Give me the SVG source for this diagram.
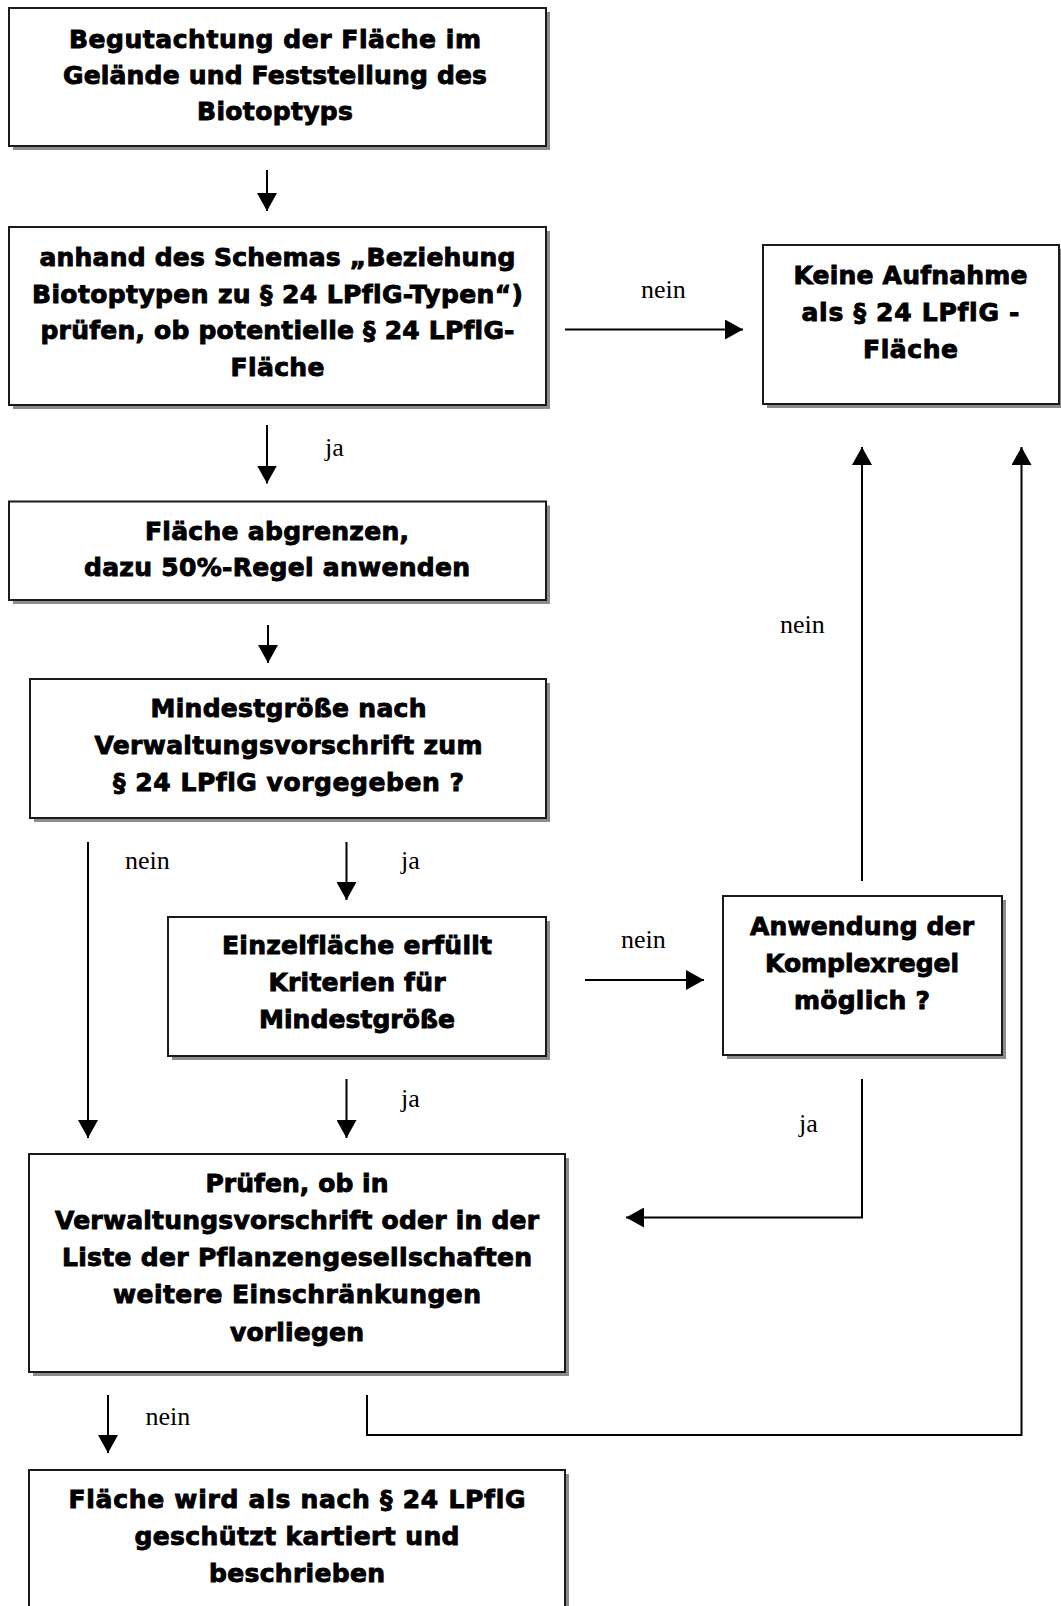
<svg xmlns="http://www.w3.org/2000/svg" width="1061" height="1606" viewBox="0 0 1061 1606">
<style>
  .box { fill: #ffffff; stroke: #1a1a1a; stroke-width: 2; }
  .shadow { fill: #8c8c8c; }
  .t { font-family: "DejaVu Sans", "Liberation Sans", sans-serif; font-weight: bold; font-size: 25px; fill: #000; stroke: #000; stroke-width: 0.9; text-anchor: middle; font-variant-ligatures: none; }
  .lbl { font-family: "Liberation Serif", "Times New Roman", serif; font-size: 26px; fill: #000; }
  .conn { fill: none; stroke: #000; stroke-width: 2; }
</style>
<defs>
  <marker id="ah" viewBox="0 0 18 20" refX="18" refY="10" markerWidth="18" markerHeight="20" markerUnits="userSpaceOnUse" orient="auto">
    <path d="M0,0 L18,10 L0,20 z" fill="#000"/>
  </marker>
</defs>
<rect width="1061" height="1606" fill="#ffffff"/>

<g id="connectors">
  <line class="conn" x1="267" y1="170" x2="267" y2="211" marker-end="url(#ah)"/>
  <line class="conn" x1="565" y1="329.5" x2="743" y2="329.5" marker-end="url(#ah)"/>
  <line class="conn" x1="267" y1="425" x2="267" y2="483.5" marker-end="url(#ah)"/>
  <line class="conn" x1="268" y1="625" x2="268" y2="663" marker-end="url(#ah)"/>
  <line class="conn" x1="88" y1="842" x2="88" y2="1138" marker-end="url(#ah)"/>
  <line class="conn" x1="346.5" y1="842" x2="346.5" y2="900" marker-end="url(#ah)"/>
  <line class="conn" x1="585" y1="980" x2="704" y2="980" marker-end="url(#ah)"/>
  <line class="conn" x1="862" y1="881" x2="862" y2="447" marker-end="url(#ah)"/>
  <line class="conn" x1="346.5" y1="1079" x2="346.5" y2="1138" marker-end="url(#ah)"/>
  <path class="conn" d="M862,1079 V1217.5 H626" marker-end="url(#ah)"/>
  <line class="conn" x1="108" y1="1395" x2="108" y2="1453" marker-end="url(#ah)"/>
  <path class="conn" d="M367,1395 V1435 H1021.5 V447" marker-end="url(#ah)"/>
  <text class="lbl" x="641" y="298">nein</text>
  <text class="lbl" x="325" y="455.5">ja</text>
  <text class="lbl" x="125" y="869">nein</text>
  <text class="lbl" x="401" y="869">ja</text>
  <text class="lbl" x="621" y="948">nein</text>
  <text class="lbl" x="780" y="632.5">nein</text>
  <text class="lbl" x="401" y="1107">ja</text>
  <text class="lbl" x="799" y="1131.5">ja</text>
  <text class="lbl" x="145.5" y="1425">nein</text>
</g>

<g id="node-begutachtung">
  <rect class="shadow" x="13" y="12" width="537" height="138"/>
  <rect class="box" x="9" y="8" width="537" height="138"/>
  <text class="t" x="275" y="47.5" textLength="412">Begutachtung der Fläche im</text>
  <text class="t" x="275" y="83.8" textLength="424">Gelände und Feststellung des</text>
  <text class="t" x="275" y="120" textLength="156">Biotoptyps</text>
</g>

<g id="node-schema">
  <rect class="shadow" x="13" y="231" width="537" height="178"/>
  <rect class="box" x="9" y="227" width="537" height="178"/>
  <text class="t" x="277.5" y="266.2" textLength="476">anhand des Schemas „Beziehung</text>
  <text class="t" x="277.5" y="302.8" textLength="491">Biotoptypen zu § 24 LPflG-Typen“)</text>
  <text class="t" x="277.5" y="339.3" textLength="474">prüfen, ob potentielle § 24 LPflG-</text>
  <text class="t" x="277.5" y="376" textLength="94">Fläche</text>
</g>

<g id="node-keine">
  <rect class="shadow" x="767" y="249" width="296" height="159"/>
  <rect class="box" x="763" y="245" width="296" height="159"/>
  <text class="t" x="910.5" y="283.5" textLength="234">Keine Aufnahme</text>
  <text class="t" x="910.5" y="320.5" textLength="218">als § 24 LPflG -</text>
  <text class="t" x="910.5" y="357.5" textLength="95">Fläche</text>
</g>

<g id="node-abgrenzen">
  <rect class="shadow" x="13" y="505.5" width="537" height="98.5"/>
  <rect class="box" x="9" y="501.5" width="537" height="98.5"/>
  <text class="t" x="277" y="539.5" textLength="264">Fläche abgrenzen,</text>
  <text class="t" x="277" y="576.2" textLength="386">dazu 50%-Regel anwenden</text>
</g>

<g id="node-mindestgroesse">
  <rect class="shadow" x="34" y="683" width="516" height="139"/>
  <rect class="box" x="30" y="679" width="516" height="139"/>
  <text class="t" x="288.5" y="716.8" textLength="276">Mindestgröße nach</text>
  <text class="t" x="288.5" y="753.5" textLength="388">Verwaltungsvorschrift zum</text>
  <text class="t" x="288.5" y="790.5" textLength="351">§ 24 LPflG vorgegeben ?</text>
</g>

<g id="node-einzelflaeche">
  <rect class="shadow" x="172" y="921" width="378" height="139"/>
  <rect class="box" x="168" y="917" width="378" height="139"/>
  <text class="t" x="357" y="953.7" textLength="270">Einzelfläche erfüllt</text>
  <text class="t" x="357" y="991.3" textLength="177">Kriterien für</text>
  <text class="t" x="357" y="1028.3" textLength="196">Mindestgröße</text>
</g>

<g id="node-komplexregel">
  <rect class="shadow" x="727" y="900" width="279" height="159"/>
  <rect class="box" x="723" y="896" width="279" height="159"/>
  <text class="t" x="862" y="934.7" textLength="224">Anwendung der</text>
  <text class="t" x="862" y="971.5" textLength="194">Komplexregel</text>
  <text class="t" x="862" y="1008.5" textLength="136">möglich ?</text>
</g>

<g id="node-pruefen">
  <rect class="shadow" x="33" y="1158" width="536" height="218"/>
  <rect class="box" x="29" y="1154" width="536" height="218"/>
  <text class="t" x="297" y="1192.3" textLength="183">Prüfen, ob in</text>
  <text class="t" x="297" y="1229.2" textLength="484">Verwaltungsvorschrift oder in der</text>
  <text class="t" x="297" y="1266" textLength="470">Liste der Pflanzengesellschaften</text>
  <text class="t" x="297" y="1303.2" textLength="368">weitere Einschränkungen</text>
  <text class="t" x="297" y="1340.5" textLength="134">vorliegen</text>
</g>

<g id="node-geschuetzt">
  <rect class="shadow" x="33" y="1474" width="536" height="160"/>
  <rect class="box" x="29" y="1470" width="536" height="160"/>
  <text class="t" x="297" y="1508" textLength="457">Fläche wird als nach § 24 LPflG</text>
  <text class="t" x="297" y="1545" textLength="325">geschützt kartiert und</text>
  <text class="t" x="297" y="1582" textLength="176">beschrieben</text>
</g>
</svg>
